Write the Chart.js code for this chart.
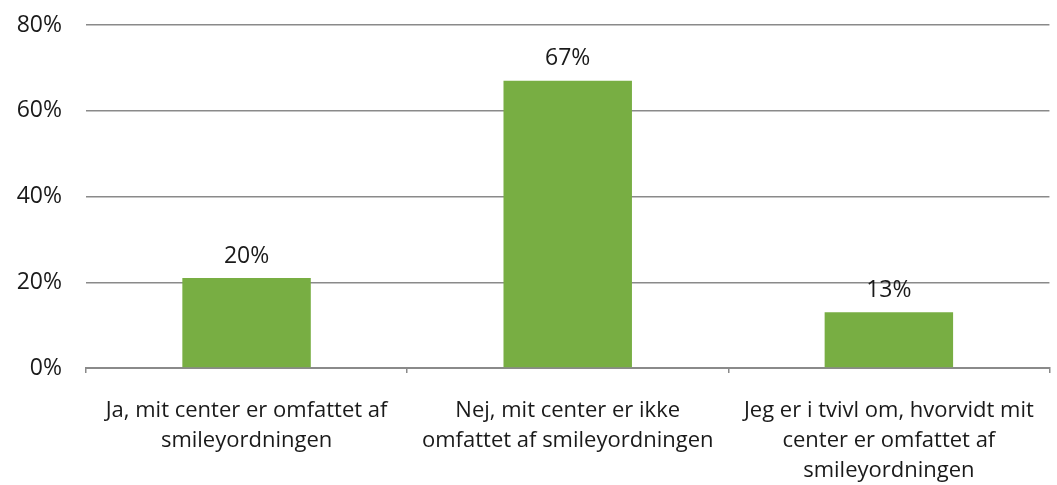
<!DOCTYPE html>
<html>
<head>
<meta charset="utf-8">
<script src="https://cdn.jsdelivr.net/npm/chart.js@4.4.0/dist/chart.umd.min.js"></script>
<style>
  html, body { margin: 0; padding: 0; background: #fff; }
  #wrap { width: 1057px; height: 485px; position: relative; }
</style>
</head>
<body>
<div id="wrap"><canvas id="myChart"></canvas></div>
<script>
// categories (wrapped as in the original)
const categories = [
  ["Ja, mit center er omfattet af", "smileyordningen"],
  ["Nej, mit center er ikke", "omfattet af smileyordningen"],
  ["Jeg er i tvivl om, hvorvidt mit", "center er omfattet af", "smileyordningen"],
];
// bar heights as drawn, and the labels printed above them
const values = [21, 67, 13];
const valueLabels = ["20%", "67%", "13%"];
const yTicks = [0, 20, 40, 60, 80];

const FONT = "'Open Sans', Lato, sans-serif";

// draws the percentage above each bar
const barLabels = {
  id: "barLabels",
  afterDatasetsDraw(chart) {
    const ctx = chart.ctx;
    const meta = chart.getDatasetMeta(0);
    ctx.save();
    ctx.font = "23px " + FONT;
    ctx.fillStyle = "#1a1a1a";
    ctx.textAlign = "center";
    ctx.textBaseline = "middle";
    meta.data.forEach((bar, i) => {
      ctx.fillText(valueLabels[i], bar.x, bar.y - 22);
    });
    ctx.restore();
  },
};

new Chart(document.getElementById("myChart"), {
  type: "bar",
  data: {
    labels: categories,
    datasets: [
      {
        data: values,
        backgroundColor: "#78ae43",
        barPercentage: 0.4,
        categoryPercentage: 1,
      },
    ],
  },
  options: {
    responsive: true,
    maintainAspectRatio: false,
    animation: false,
    layout: { padding: { top: 25, right: 1, left: 0, bottom: 0 } },
    plugins: { legend: { display: false }, tooltip: { enabled: false } },
    scales: {
      x: {
        grid: {
          offset: true,
          drawOnChartArea: false,
          drawTicks: true,
          tickLength: 5,
          color: "#8a8a8a",
          lineWidth: 1.5,
        },
        border: { display: true, color: "#8a8a8a", width: 2 },
        ticks: {
          color: "#1a1a1a",
          font: { family: FONT, size: 22, lineHeight: 1.36 },
          padding: 23,
          maxRotation: 0,
          autoSkip: false,
        },
        afterFit(scale) {
          scale.height = 117;
        },
      },
      y: {
        min: 0,
        max: 80,
        afterBuildTicks(scale) {
          scale.ticks = yTicks.map((v) => ({ value: v }));
        },
        grid: { color: "#8a8a8a", lineWidth: 1.5, drawTicks: false },
        border: { display: false },
        ticks: {
          color: "#1a1a1a",
          font: { family: FONT, size: 23 },
          padding: 24,
          callback: (v) => v + "%",
        },
        afterFit(scale) {
          scale.width = 86;
          scale.paddingTop = 0;
          scale.paddingBottom = 0;
        },
      },
    },
  },
  plugins: [barLabels],
});
</script>
</body>
</html>
